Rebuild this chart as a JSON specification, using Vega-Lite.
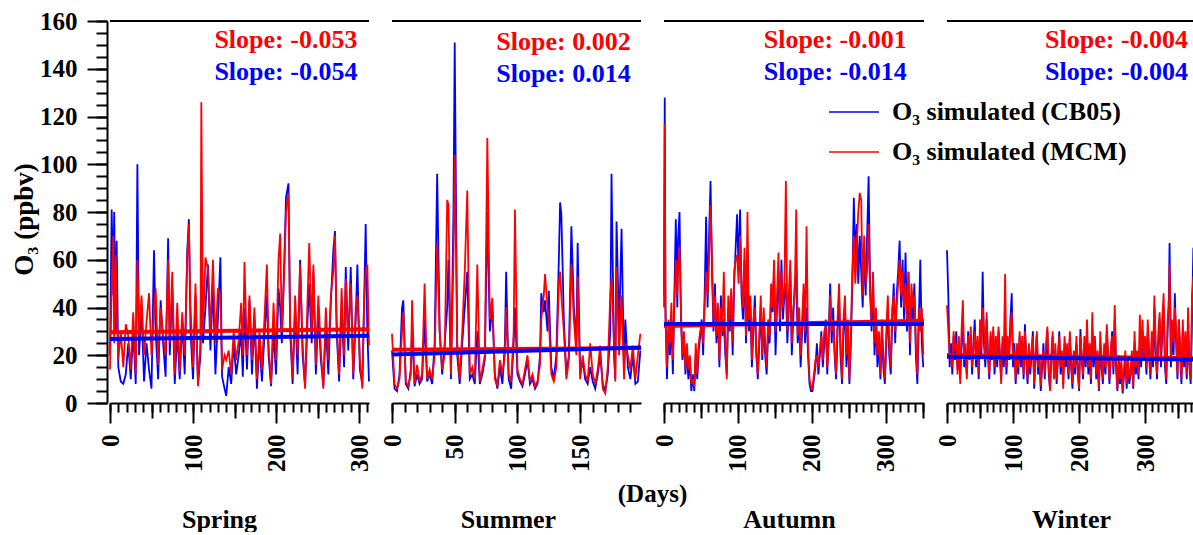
{
"$schema": "https://vega.github.io/schema/vega-lite/v6.json",
"padding": {"left": 10, "top": 9, "right": 0, "bottom": 0},
"bounds": "flush",
"spacing": 23,
"config": {"view": {"stroke": null}, "font": "Liberation Serif",
  "axis": {"grid": false, "domainColor": "black", "domainWidth": 2, "tickColor": "black", "tickWidth": 2, "labelFont": "Liberation Serif", "labelFontSize": 25, "labelFontWeight": "bold", "labelColor": "black", "titleFont": "Liberation Serif", "titleFontSize": 26, "titleFontWeight": "bold", "titleColor": "black", "labelFlush": false, "labelOverlap": false},
  "text": {"font": "Liberation Serif", "fontSize": 26, "fontWeight": "bold", "align": "right", "baseline": "middle"}},
"resolve": {"scale": {"color": "independent"}},
"datasets": {
"spring": [
{"day":0,"cb05":20,"mcm":14},{"day":2,"cb05":81,"mcm":48},{"day":4,"cb05":45,"mcm":70},{"day":5,"cb05":80,"mcm":25},{"day":7,"cb05":30,"mcm":62},{"day":8,"cb05":68,"mcm":40},{"day":10,"cb05":15,"mcm":18},{"day":13,"cb05":9,"mcm":30},{"day":16,"cb05":8,"mcm":15},{"day":19,"cb05":12,"mcm":33},{"day":22,"cb05":25,"mcm":28},{"day":25,"cb05":10,"mcm":14},{"day":28,"cb05":30,"mcm":38},{"day":31,"cb05":8,"mcm":12},{"day":33,"cb05":100,"mcm":60},{"day":35,"cb05":20,"mcm":28},{"day":38,"cb05":40,"mcm":45},{"day":41,"cb05":9,"mcm":20},{"day":44,"cb05":25,"mcm":34},{"day":47,"cb05":14,"mcm":46},{"day":50,"cb05":6,"mcm":20},{"day":53,"cb05":64,"mcm":38},{"day":55,"cb05":30,"mcm":48},{"day":58,"cb05":10,"mcm":16},{"day":61,"cb05":43,"mcm":40},{"day":64,"cb05":25,"mcm":28},{"day":67,"cb05":11,"mcm":20},{"day":70,"cb05":69,"mcm":60},{"day":72,"cb05":20,"mcm":25},{"day":75,"cb05":48,"mcm":55},{"day":78,"cb05":8,"mcm":12},{"day":81,"cb05":30,"mcm":42},{"day":84,"cb05":10,"mcm":13},{"day":87,"cb05":35,"mcm":38},{"day":90,"cb05":12,"mcm":20},{"day":93,"cb05":63,"mcm":60},{"day":95,"cb05":77,"mcm":75},{"day":97,"cb05":30,"mcm":40},{"day":100,"cb05":10,"mcm":15},{"day":103,"cb05":45,"mcm":50},{"day":106,"cb05":8,"mcm":7},{"day":109,"cb05":20,"mcm":25},{"day":110,"cb05":60,"mcm":126},{"day":112,"cb05":25,"mcm":30},{"day":115,"cb05":40,"mcm":61},{"day":118,"cb05":58,"mcm":56},{"day":121,"cb05":22,"mcm":30},{"day":124,"cb05":50,"mcm":60},{"day":127,"cb05":12,"mcm":25},{"day":130,"cb05":35,"mcm":48},{"day":133,"cb05":61,"mcm":45},{"day":135,"cb05":11,"mcm":14},{"day":138,"cb05":6,"mcm":20},{"day":140,"cb05":3,"mcm":18},{"day":143,"cb05":15,"mcm":22},{"day":146,"cb05":8,"mcm":12},{"day":149,"cb05":25,"mcm":30},{"day":152,"cb05":12,"mcm":18},{"day":155,"cb05":20,"mcm":26},{"day":158,"cb05":30,"mcm":42},{"day":160,"cb05":11,"mcm":20},{"day":162,"cb05":40,"mcm":59},{"day":165,"cb05":14,"mcm":20},{"day":168,"cb05":43,"mcm":45},{"day":171,"cb05":12,"mcm":18},{"day":174,"cb05":35,"mcm":40},{"day":177,"cb05":6,"mcm":10},{"day":180,"cb05":26,"mcm":30},{"day":183,"cb05":9,"mcm":14},{"day":186,"cb05":28,"mcm":35},{"day":189,"cb05":45,"mcm":58},{"day":191,"cb05":20,"mcm":24},{"day":194,"cb05":7,"mcm":8},{"day":197,"cb05":30,"mcm":42},{"day":200,"cb05":12,"mcm":18},{"day":203,"cb05":48,"mcm":60},{"day":205,"cb05":40,"mcm":71},{"day":207,"cb05":25,"mcm":30},{"day":210,"cb05":60,"mcm":55},{"day":212,"cb05":86,"mcm":80},{"day":215,"cb05":92,"mcm":88},{"day":217,"cb05":30,"mcm":35},{"day":220,"cb05":8,"mcm":10},{"day":223,"cb05":40,"mcm":45},{"day":226,"cb05":12,"mcm":20},{"day":229,"cb05":60,"mcm":58},{"day":232,"cb05":20,"mcm":25},{"day":235,"cb05":7,"mcm":6},{"day":238,"cb05":35,"mcm":44},{"day":240,"cb05":50,"mcm":67},{"day":243,"cb05":25,"mcm":30},{"day":245,"cb05":55,"mcm":58},{"day":248,"cb05":12,"mcm":16},{"day":251,"cb05":38,"mcm":45},{"day":254,"cb05":18,"mcm":22},{"day":257,"cb05":7,"mcm":6},{"day":260,"cb05":33,"mcm":40},{"day":263,"cb05":12,"mcm":18},{"day":266,"cb05":42,"mcm":45},{"day":269,"cb05":64,"mcm":55},{"day":271,"cb05":72,"mcm":70},{"day":273,"cb05":30,"mcm":35},{"day":276,"cb05":9,"mcm":12},{"day":279,"cb05":40,"mcm":48},{"day":282,"cb05":15,"mcm":20},{"day":284,"cb05":57,"mcm":52},{"day":287,"cb05":22,"mcm":28},{"day":290,"cb05":57,"mcm":50},{"day":293,"cb05":10,"mcm":12},{"day":296,"cb05":35,"mcm":40},{"day":298,"cb05":58,"mcm":45},{"day":301,"cb05":14,"mcm":18},{"day":304,"cb05":8,"mcm":6},{"day":306,"cb05":40,"mcm":42},{"day":308,"cb05":75,"mcm":55},{"day":310,"cb05":30,"mcm":58},{"day":312,"cb05":9,"mcm":24}
],
"summer": [
{"day":0,"cb05":22,"mcm":29},{"day":2,"cb05":6,"mcm":8},{"day":4,"cb05":5,"mcm":6},{"day":6,"cb05":12,"mcm":10},{"day":8,"cb05":40,"mcm":30},{"day":9,"cb05":43,"mcm":38},{"day":11,"cb05":8,"mcm":9},{"day":13,"cb05":6,"mcm":7},{"day":15,"cb05":14,"mcm":12},{"day":16,"cb05":30,"mcm":43},{"day":18,"cb05":7,"mcm":8},{"day":20,"cb05":12,"mcm":16},{"day":22,"cb05":8,"mcm":9},{"day":24,"cb05":10,"mcm":12},{"day":26,"cb05":35,"mcm":50},{"day":28,"cb05":9,"mcm":10},{"day":30,"cb05":12,"mcm":14},{"day":32,"cb05":8,"mcm":10},{"day":34,"cb05":25,"mcm":20},{"day":36,"cb05":96,"mcm":67},{"day":38,"cb05":30,"mcm":30},{"day":40,"cb05":12,"mcm":14},{"day":42,"cb05":25,"mcm":20},{"day":44,"cb05":40,"mcm":85},{"day":45,"cb05":60,"mcm":83},{"day":47,"cb05":10,"mcm":12},{"day":49,"cb05":80,"mcm":60},{"day":50,"cb05":151,"mcm":104},{"day":52,"cb05":20,"mcm":25},{"day":54,"cb05":8,"mcm":10},{"day":56,"cb05":25,"mcm":30},{"day":58,"cb05":40,"mcm":55},{"day":60,"cb05":55,"mcm":89},{"day":62,"cb05":10,"mcm":12},{"day":64,"cb05":12,"mcm":15},{"day":66,"cb05":8,"mcm":10},{"day":68,"cb05":30,"mcm":58},{"day":70,"cb05":8,"mcm":9},{"day":72,"cb05":12,"mcm":14},{"day":74,"cb05":18,"mcm":20},{"day":76,"cb05":80,"mcm":111},{"day":78,"cb05":30,"mcm":35},{"day":80,"cb05":40,"mcm":44},{"day":82,"cb05":12,"mcm":10},{"day":84,"cb05":6,"mcm":7},{"day":86,"cb05":15,"mcm":18},{"day":88,"cb05":8,"mcm":12},{"day":90,"cb05":25,"mcm":20},{"day":91,"cb05":55,"mcm":40},{"day":93,"cb05":10,"mcm":12},{"day":95,"cb05":6,"mcm":9},{"day":97,"cb05":25,"mcm":30},{"day":98,"cb05":40,"mcm":81},{"day":100,"cb05":12,"mcm":14},{"day":102,"cb05":9,"mcm":10},{"day":104,"cb05":7,"mcm":8},{"day":106,"cb05":12,"mcm":14},{"day":108,"cb05":18,"mcm":20},{"day":110,"cb05":8,"mcm":9},{"day":112,"cb05":10,"mcm":12},{"day":114,"cb05":6,"mcm":7},{"day":116,"cb05":8,"mcm":9},{"day":118,"cb05":20,"mcm":16},{"day":119,"cb05":46,"mcm":35},{"day":121,"cb05":38,"mcm":45},{"day":122,"cb05":43,"mcm":54},{"day":124,"cb05":30,"mcm":40},{"day":125,"cb05":47,"mcm":35},{"day":127,"cb05":15,"mcm":12},{"day":129,"cb05":10,"mcm":9},{"day":131,"cb05":20,"mcm":15},{"day":133,"cb05":60,"mcm":50},{"day":134,"cb05":84,"mcm":55},{"day":135,"cb05":79,"mcm":45},{"day":137,"cb05":35,"mcm":30},{"day":139,"cb05":12,"mcm":10},{"day":141,"cb05":20,"mcm":18},{"day":143,"cb05":74,"mcm":58},{"day":145,"cb05":40,"mcm":35},{"day":147,"cb05":25,"mcm":20},{"day":148,"cb05":67,"mcm":53},{"day":150,"cb05":12,"mcm":10},{"day":152,"cb05":18,"mcm":20},{"day":154,"cb05":10,"mcm":12},{"day":156,"cb05":8,"mcm":9},{"day":158,"cb05":15,"mcm":25},{"day":160,"cb05":9,"mcm":12},{"day":162,"cb05":6,"mcm":8},{"day":164,"cb05":12,"mcm":14},{"day":166,"cb05":20,"mcm":24},{"day":168,"cb05":8,"mcm":6},{"day":170,"cb05":5,"mcm":4},{"day":172,"cb05":12,"mcm":15},{"day":174,"cb05":30,"mcm":45},{"day":175,"cb05":96,"mcm":52},{"day":177,"cb05":20,"mcm":25},{"day":178,"cb05":10,"mcm":9},{"day":179,"cb05":76,"mcm":57},{"day":181,"cb05":30,"mcm":20},{"day":183,"cb05":73,"mcm":45},{"day":185,"cb05":12,"mcm":10},{"day":186,"cb05":35,"mcm":25},{"day":188,"cb05":15,"mcm":20},{"day":190,"cb05":10,"mcm":14},{"day":192,"cb05":20,"mcm":24},{"day":194,"cb05":8,"mcm":10},{"day":196,"cb05":9,"mcm":20},{"day":198,"cb05":22,"mcm":29}
],
"autumn": [
{"day":0,"cb05":45,"mcm":40},{"day":1,"cb05":128,"mcm":117},{"day":2,"cb05":40,"mcm":35},{"day":4,"cb05":10,"mcm":15},{"day":6,"cb05":30,"mcm":35},{"day":8,"cb05":20,"mcm":25},{"day":10,"cb05":35,"mcm":42},{"day":12,"cb05":12,"mcm":18},{"day":14,"cb05":45,"mcm":40},{"day":16,"cb05":77,"mcm":60},{"day":18,"cb05":40,"mcm":45},{"day":19,"cb05":68,"mcm":55},{"day":21,"cb05":80,"mcm":65},{"day":23,"cb05":35,"mcm":38},{"day":25,"cb05":18,"mcm":20},{"day":27,"cb05":28,"mcm":30},{"day":29,"cb05":12,"mcm":14},{"day":31,"cb05":22,"mcm":25},{"day":33,"cb05":10,"mcm":14},{"day":35,"cb05":18,"mcm":20},{"day":37,"cb05":5,"mcm":8},{"day":39,"cb05":12,"mcm":10},{"day":41,"cb05":5,"mcm":7},{"day":43,"cb05":20,"mcm":25},{"day":45,"cb05":10,"mcm":12},{"day":47,"cb05":22,"mcm":25},{"day":49,"cb05":28,"mcm":30},{"day":51,"cb05":35,"mcm":32},{"day":53,"cb05":20,"mcm":25},{"day":55,"cb05":45,"mcm":40},{"day":57,"cb05":78,"mcm":55},{"day":59,"cb05":40,"mcm":45},{"day":61,"cb05":70,"mcm":60},{"day":63,"cb05":93,"mcm":83},{"day":65,"cb05":55,"mcm":60},{"day":67,"cb05":30,"mcm":35},{"day":69,"cb05":50,"mcm":45},{"day":71,"cb05":25,"mcm":28},{"day":73,"cb05":38,"mcm":42},{"day":75,"cb05":15,"mcm":18},{"day":77,"cb05":45,"mcm":40},{"day":79,"cb05":28,"mcm":30},{"day":81,"cb05":35,"mcm":55},{"day":83,"cb05":20,"mcm":25},{"day":85,"cb05":12,"mcm":10},{"day":87,"cb05":40,"mcm":45},{"day":89,"cb05":30,"mcm":35},{"day":91,"cb05":45,"mcm":48},{"day":93,"cb05":20,"mcm":25},{"day":95,"cb05":50,"mcm":55},{"day":97,"cb05":65,"mcm":60},{"day":99,"cb05":79,"mcm":62},{"day":101,"cb05":55,"mcm":50},{"day":103,"cb05":81,"mcm":70},{"day":105,"cb05":45,"mcm":50},{"day":107,"cb05":35,"mcm":40},{"day":109,"cb05":60,"mcm":65},{"day":111,"cb05":25,"mcm":28},{"day":113,"cb05":50,"mcm":80},{"day":115,"cb05":30,"mcm":35},{"day":117,"cb05":40,"mcm":45},{"day":119,"cb05":15,"mcm":18},{"day":121,"cb05":30,"mcm":35},{"day":123,"cb05":45,"mcm":40},{"day":125,"cb05":20,"mcm":22},{"day":127,"cb05":10,"mcm":12},{"day":129,"cb05":25,"mcm":28},{"day":131,"cb05":40,"mcm":45},{"day":133,"cb05":18,"mcm":20},{"day":135,"cb05":35,"mcm":40},{"day":137,"cb05":20,"mcm":25},{"day":139,"cb05":12,"mcm":15},{"day":141,"cb05":30,"mcm":35},{"day":143,"cb05":25,"mcm":28},{"day":145,"cb05":45,"mcm":50},{"day":147,"cb05":38,"mcm":40},{"day":149,"cb05":55,"mcm":60},{"day":151,"cb05":20,"mcm":30},{"day":153,"cb05":40,"mcm":45},{"day":155,"cb05":55,"mcm":63},{"day":157,"cb05":30,"mcm":35},{"day":159,"cb05":60,"mcm":55},{"day":161,"cb05":35,"mcm":40},{"day":163,"cb05":45,"mcm":50},{"day":165,"cb05":50,"mcm":93},{"day":167,"cb05":25,"mcm":30},{"day":169,"cb05":40,"mcm":45},{"day":171,"cb05":55,"mcm":60},{"day":173,"cb05":20,"mcm":25},{"day":175,"cb05":35,"mcm":40},{"day":177,"cb05":50,"mcm":45},{"day":179,"cb05":55,"mcm":81},{"day":181,"cb05":25,"mcm":28},{"day":183,"cb05":35,"mcm":40},{"day":185,"cb05":15,"mcm":20},{"day":187,"cb05":30,"mcm":35},{"day":189,"cb05":45,"mcm":50},{"day":191,"cb05":25,"mcm":30},{"day":193,"cb05":40,"mcm":74},{"day":195,"cb05":20,"mcm":25},{"day":197,"cb05":8,"mcm":10},{"day":199,"cb05":5,"mcm":7},{"day":201,"cb05":5,"mcm":6},{"day":203,"cb05":10,"mcm":12},{"day":205,"cb05":15,"mcm":18},{"day":207,"cb05":25,"mcm":20},{"day":209,"cb05":12,"mcm":15},{"day":211,"cb05":20,"mcm":22},{"day":213,"cb05":30,"mcm":28},{"day":215,"cb05":15,"mcm":18},{"day":217,"cb05":25,"mcm":30},{"day":219,"cb05":35,"mcm":32},{"day":221,"cb05":12,"mcm":15},{"day":223,"cb05":30,"mcm":25},{"day":225,"cb05":50,"mcm":45},{"day":227,"cb05":25,"mcm":30},{"day":229,"cb05":40,"mcm":35},{"day":231,"cb05":20,"mcm":22},{"day":233,"cb05":10,"mcm":12},{"day":235,"cb05":30,"mcm":35},{"day":237,"cb05":45,"mcm":50},{"day":239,"cb05":20,"mcm":25},{"day":241,"cb05":8,"mcm":10},{"day":243,"cb05":30,"mcm":35},{"day":245,"cb05":40,"mcm":45},{"day":247,"cb05":15,"mcm":20},{"day":249,"cb05":30,"mcm":35},{"day":251,"cb05":8,"mcm":10},{"day":253,"cb05":25,"mcm":30},{"day":255,"cb05":50,"mcm":55},{"day":257,"cb05":86,"mcm":70},{"day":259,"cb05":60,"mcm":50},{"day":261,"cb05":75,"mcm":65},{"day":263,"cb05":50,"mcm":80},{"day":265,"cb05":70,"mcm":88},{"day":267,"cb05":55,"mcm":85},{"day":269,"cb05":40,"mcm":45},{"day":271,"cb05":65,"mcm":70},{"day":273,"cb05":45,"mcm":50},{"day":275,"cb05":70,"mcm":55},{"day":277,"cb05":95,"mcm":75},{"day":279,"cb05":50,"mcm":45},{"day":281,"cb05":30,"mcm":35},{"day":283,"cb05":50,"mcm":55},{"day":285,"cb05":20,"mcm":25},{"day":287,"cb05":35,"mcm":40},{"day":289,"cb05":15,"mcm":20},{"day":291,"cb05":25,"mcm":30},{"day":293,"cb05":10,"mcm":12},{"day":295,"cb05":30,"mcm":35},{"day":297,"cb05":15,"mcm":20},{"day":299,"cb05":8,"mcm":10},{"day":301,"cb05":25,"mcm":30},{"day":303,"cb05":40,"mcm":45},{"day":305,"cb05":20,"mcm":25},{"day":307,"cb05":12,"mcm":15},{"day":309,"cb05":35,"mcm":40},{"day":311,"cb05":50,"mcm":45},{"day":313,"cb05":25,"mcm":30},{"day":315,"cb05":45,"mcm":40},{"day":317,"cb05":55,"mcm":50},{"day":319,"cb05":68,"mcm":60},{"day":321,"cb05":40,"mcm":45},{"day":323,"cb05":60,"mcm":55},{"day":325,"cb05":35,"mcm":40},{"day":327,"cb05":63,"mcm":50},{"day":329,"cb05":30,"mcm":35},{"day":331,"cb05":55,"mcm":55},{"day":333,"cb05":20,"mcm":25},{"day":335,"cb05":45,"mcm":50},{"day":337,"cb05":35,"mcm":40},{"day":339,"cb05":50,"mcm":45},{"day":341,"cb05":20,"mcm":25},{"day":343,"cb05":8,"mcm":12},{"day":345,"cb05":35,"mcm":40},{"day":347,"cb05":60,"mcm":30},{"day":349,"cb05":25,"mcm":40},{"day":351,"cb05":15,"mcm":20}
],
"winter": [
{"day":0,"cb05":64,"mcm":41},{"day":2,"cb05":45,"mcm":30},{"day":4,"cb05":15,"mcm":20},{"day":6,"cb05":25,"mcm":18},{"day":8,"cb05":12,"mcm":15},{"day":10,"cb05":28,"mcm":30},{"day":12,"cb05":18,"mcm":22},{"day":14,"cb05":30,"mcm":25},{"day":16,"cb05":14,"mcm":12},{"day":18,"cb05":22,"mcm":28},{"day":20,"cb05":10,"mcm":8},{"day":22,"cb05":25,"mcm":30},{"day":24,"cb05":35,"mcm":43},{"day":26,"cb05":15,"mcm":18},{"day":28,"cb05":20,"mcm":25},{"day":30,"cb05":12,"mcm":10},{"day":32,"cb05":30,"mcm":28},{"day":34,"cb05":18,"mcm":20},{"day":36,"cb05":28,"mcm":32},{"day":38,"cb05":12,"mcm":15},{"day":40,"cb05":25,"mcm":22},{"day":42,"cb05":35,"mcm":30},{"day":44,"cb05":15,"mcm":18},{"day":46,"cb05":25,"mcm":28},{"day":48,"cb05":10,"mcm":12},{"day":50,"cb05":30,"mcm":35},{"day":52,"cb05":20,"mcm":22},{"day":54,"cb05":55,"mcm":40},{"day":56,"cb05":25,"mcm":30},{"day":58,"cb05":15,"mcm":18},{"day":60,"cb05":35,"mcm":38},{"day":62,"cb05":20,"mcm":22},{"day":64,"cb05":10,"mcm":12},{"day":66,"cb05":28,"mcm":30},{"day":68,"cb05":18,"mcm":20},{"day":70,"cb05":30,"mcm":32},{"day":72,"cb05":12,"mcm":15},{"day":74,"cb05":25,"mcm":28},{"day":76,"cb05":15,"mcm":18},{"day":78,"cb05":30,"mcm":32},{"day":80,"cb05":20,"mcm":22},{"day":82,"cb05":10,"mcm":8},{"day":84,"cb05":25,"mcm":28},{"day":86,"cb05":15,"mcm":20},{"day":88,"cb05":30,"mcm":54},{"day":90,"cb05":12,"mcm":15},{"day":92,"cb05":25,"mcm":28},{"day":94,"cb05":18,"mcm":20},{"day":96,"cb05":35,"mcm":30},{"day":98,"cb05":46,"mcm":38},{"day":100,"cb05":15,"mcm":18},{"day":102,"cb05":25,"mcm":22},{"day":104,"cb05":8,"mcm":10},{"day":106,"cb05":20,"mcm":25},{"day":108,"cb05":12,"mcm":15},{"day":110,"cb05":28,"mcm":30},{"day":112,"cb05":15,"mcm":18},{"day":114,"cb05":25,"mcm":28},{"day":116,"cb05":10,"mcm":12},{"day":118,"cb05":33,"mcm":30},{"day":120,"cb05":18,"mcm":20},{"day":122,"cb05":8,"mcm":10},{"day":124,"cb05":22,"mcm":25},{"day":126,"cb05":12,"mcm":15},{"day":128,"cb05":20,"mcm":22},{"day":130,"cb05":30,"mcm":28},{"day":132,"cb05":6,"mcm":8},{"day":134,"cb05":18,"mcm":20},{"day":136,"cb05":28,"mcm":30},{"day":138,"cb05":12,"mcm":15},{"day":140,"cb05":20,"mcm":18},{"day":142,"cb05":5,"mcm":7},{"day":144,"cb05":15,"mcm":18},{"day":146,"cb05":25,"mcm":22},{"day":148,"cb05":10,"mcm":12},{"day":150,"cb05":20,"mcm":25},{"day":152,"cb05":30,"mcm":32},{"day":154,"cb05":12,"mcm":15},{"day":156,"cb05":6,"mcm":5},{"day":158,"cb05":20,"mcm":18},{"day":160,"cb05":28,"mcm":30},{"day":162,"cb05":12,"mcm":10},{"day":164,"cb05":22,"mcm":25},{"day":166,"cb05":8,"mcm":10},{"day":168,"cb05":18,"mcm":20},{"day":170,"cb05":30,"mcm":28},{"day":172,"cb05":12,"mcm":15},{"day":174,"cb05":20,"mcm":22},{"day":176,"cb05":8,"mcm":6},{"day":178,"cb05":25,"mcm":28},{"day":180,"cb05":15,"mcm":18},{"day":182,"cb05":22,"mcm":25},{"day":184,"cb05":10,"mcm":12},{"day":186,"cb05":28,"mcm":30},{"day":188,"cb05":15,"mcm":18},{"day":190,"cb05":6,"mcm":8},{"day":192,"cb05":20,"mcm":22},{"day":194,"cb05":12,"mcm":15},{"day":196,"cb05":25,"mcm":28},{"day":198,"cb05":15,"mcm":12},{"day":200,"cb05":5,"mcm":6},{"day":202,"cb05":31,"mcm":28},{"day":204,"cb05":18,"mcm":20},{"day":206,"cb05":10,"mcm":12},{"day":208,"cb05":25,"mcm":28},{"day":210,"cb05":15,"mcm":18},{"day":212,"cb05":28,"mcm":35},{"day":214,"cb05":12,"mcm":15},{"day":216,"cb05":20,"mcm":25},{"day":218,"cb05":8,"mcm":10},{"day":220,"cb05":30,"mcm":38},{"day":222,"cb05":15,"mcm":18},{"day":224,"cb05":25,"mcm":28},{"day":226,"cb05":10,"mcm":12},{"day":228,"cb05":20,"mcm":22},{"day":230,"cb05":5,"mcm":6},{"day":232,"cb05":25,"mcm":30},{"day":234,"cb05":15,"mcm":18},{"day":236,"cb05":8,"mcm":10},{"day":238,"cb05":22,"mcm":25},{"day":240,"cb05":12,"mcm":15},{"day":242,"cb05":30,"mcm":33},{"day":244,"cb05":18,"mcm":20},{"day":246,"cb05":8,"mcm":10},{"day":248,"cb05":20,"mcm":22},{"day":250,"cb05":30,"mcm":28},{"day":252,"cb05":12,"mcm":15},{"day":254,"cb05":35,"mcm":41},{"day":256,"cb05":15,"mcm":18},{"day":258,"cb05":5,"mcm":6},{"day":260,"cb05":18,"mcm":20},{"day":262,"cb05":8,"mcm":10},{"day":264,"cb05":15,"mcm":18},{"day":266,"cb05":4,"mcm":5},{"day":268,"cb05":12,"mcm":14},{"day":270,"cb05":20,"mcm":22},{"day":272,"cb05":6,"mcm":8},{"day":274,"cb05":15,"mcm":18},{"day":276,"cb05":8,"mcm":10},{"day":278,"cb05":12,"mcm":14},{"day":280,"cb05":20,"mcm":22},{"day":282,"cb05":6,"mcm":7},{"day":284,"cb05":25,"mcm":30},{"day":286,"cb05":12,"mcm":15},{"day":288,"cb05":20,"mcm":22},{"day":290,"cb05":10,"mcm":12},{"day":292,"cb05":25,"mcm":37},{"day":294,"cb05":15,"mcm":18},{"day":296,"cb05":30,"mcm":35},{"day":298,"cb05":18,"mcm":20},{"day":300,"cb05":25,"mcm":28},{"day":302,"cb05":12,"mcm":15},{"day":304,"cb05":30,"mcm":35},{"day":306,"cb05":20,"mcm":22},{"day":308,"cb05":10,"mcm":12},{"day":310,"cb05":25,"mcm":30},{"day":312,"cb05":15,"mcm":18},{"day":314,"cb05":40,"mcm":45},{"day":316,"cb05":20,"mcm":25},{"day":318,"cb05":10,"mcm":12},{"day":320,"cb05":25,"mcm":30},{"day":322,"cb05":35,"mcm":38},{"day":324,"cb05":15,"mcm":18},{"day":326,"cb05":30,"mcm":35},{"day":328,"cb05":40,"mcm":46},{"day":330,"cb05":15,"mcm":18},{"day":332,"cb05":8,"mcm":10},{"day":334,"cb05":30,"mcm":35},{"day":336,"cb05":45,"mcm":40},{"day":337,"cb05":67,"mcm":58},{"day":339,"cb05":15,"mcm":20},{"day":341,"cb05":30,"mcm":35},{"day":343,"cb05":20,"mcm":25},{"day":345,"cb05":46,"mcm":40},{"day":347,"cb05":25,"mcm":30},{"day":349,"cb05":10,"mcm":12},{"day":351,"cb05":35,"mcm":35},{"day":353,"cb05":20,"mcm":25},{"day":355,"cb05":8,"mcm":10},{"day":357,"cb05":30,"mcm":35},{"day":359,"cb05":15,"mcm":18},{"day":361,"cb05":25,"mcm":30},{"day":363,"cb05":10,"mcm":12},{"day":365,"cb05":30,"mcm":40},{"day":367,"cb05":15,"mcm":18},{"day":369,"cb05":8,"mcm":10},{"day":371,"cb05":35,"mcm":45},{"day":373,"cb05":65,"mcm":53},{"day":374,"cb05":40,"mcm":30}
],
"trend_spring": [{"day":0,"cb05":26.8,"mcm":29.6},{"day":312,"cb05":28.2,"mcm":30.9}],
"trend_summer": [{"day":0,"cb05":20.3,"mcm":22.3},{"day":198.5,"cb05":23.2,"mcm":23.0}],
"trend_autumn": [{"day":0,"cb05":33.1,"mcm":32.3},{"day":352,"cb05":33.1,"mcm":34.4}],
"trend_winter": [{"day":0,"cb05":19.4,"mcm":20.1},{"day":374,"cb05":18.2,"mcm":18.7}],
"blank": [{}]
},
"hconcat": [
{
"width": 259, "height": 382,
"resolve": {"axis": {"x": "independent", "y": "independent"}},
"layer": [
{"data": {"name": "spring"}, "mark": {"type": "line", "color": "#0000ff", "strokeWidth": 1.8},
 "encoding": {"x": {"field": "day", "type": "quantitative", "scale": {"domain": [0, 312], "nice": false, "zero": false},
   "axis": {"orient": "bottom", "values": [0, 100, 200, 300], "tickSize": 20, "labelAngle": -90, "labelPadding": 11, "title": "Spring", "titleX": 109, "titleY": 124, "titleBaseline": "alphabetic", "titleAlign": "center"}},
  "y": {"field": "cb05", "type": "quantitative", "scale": {"domain": [0, 160], "nice": false},
   "axis": {"orient": "left", "values": [0, 20, 40, 60, 80, 100, 120, 140, 160], "tickSize": 20, "offset": 3, "labelPadding": 10, "title": "O₃ (ppbv)", "titleFontSize": 27, "titlePadding": 1, "titleY": 198, "titleAlign": "center"}}}},
{"data": {"name": "spring"}, "mark": {"type": "line", "color": "#ff0000", "strokeWidth": 1.8},
 "encoding": {"x": {"field": "day", "type": "quantitative", "scale": {"domain": [0, 312], "nice": false, "zero": false},
   "axis": {"orient": "bottom", "values": [50, 150, 250], "tickSize": 15, "labels": false, "domain": false, "title": null}},
  "y": {"field": "mcm", "type": "quantitative", "scale": {"domain": [0, 160], "nice": false},
   "axis": {"orient": "left", "values": [0,5,10,15,20,25,30,35,40,45,50,55,60,65,70,75,80,85,90,95,100,105,110,115,120,125,130,135,140,145,150,155,160], "tickSize": 11, "offset": 3, "labels": false, "domain": false, "title": null}}}},
{"data": {"name": "trend_spring"}, "mark": {"type": "line", "color": "#ff0000", "strokeWidth": 4},
 "encoding": {"x": {"field": "day", "type": "quantitative", "scale": {"domain": [0, 312], "nice": false, "zero": false},
   "axis": {"orient": "bottom", "values": [0,10,20,30,40,50,60,70,80,90,100,110,120,130,140,150,160,170,180,190,200,210,220,230,240,250,260,270,280,290,300,310], "tickSize": 9, "labels": false, "domain": false, "title": null}},
  "y": {"field": "mcm", "type": "quantitative", "axis": null}}},
{"data": {"name": "trend_spring"}, "mark": {"type": "line", "color": "#0000ff", "strokeWidth": 4},
 "encoding": {"x": {"field": "day", "type": "quantitative", "axis": null}, "y": {"field": "cb05", "type": "quantitative", "axis": null}}},
{"data": {"name": "blank"}, "mark": {"type": "rule", "color": "black", "strokeWidth": 2},
 "encoding": {"y": {"datum": 160, "type": "quantitative", "axis": null}}},
{"data": {"name": "blank"}, "mark": {"type": "text", "color": "#ff0000"},
 "encoding": {"x": {"datum": 298, "type": "quantitative", "axis": null}, "y": {"datum": 152, "type": "quantitative", "axis": null}, "text": {"value": "Slope: -0.053"}}},
{"data": {"name": "blank"}, "mark": {"type": "text", "color": "#0000ff"},
 "encoding": {"x": {"datum": 298, "type": "quantitative", "axis": null}, "y": {"datum": 138.6, "type": "quantitative", "axis": null}, "text": {"value": "Slope: -0.054"}}}
]
},
{
"width": 249, "height": 382,
"resolve": {"axis": {"x": "independent", "y": "independent"}},
"layer": [
{"data": {"name": "summer"}, "mark": {"type": "line", "color": "#0000ff", "strokeWidth": 1.8},
 "encoding": {"x": {"field": "day", "type": "quantitative", "scale": {"domain": [0, 198.5], "nice": false, "zero": false},
   "axis": {"orient": "bottom", "values": [0, 50, 100, 150], "tickSize": 20, "labelAngle": -90, "labelPadding": 11, "title": "Summer", "titleX": 116, "titleY": 124, "titleBaseline": "alphabetic", "titleAlign": "center"}},
  "y": {"field": "cb05", "type": "quantitative", "scale": {"domain": [0, 160], "nice": false}, "axis": null}}},
{"data": {"name": "summer"}, "mark": {"type": "line", "color": "#ff0000", "strokeWidth": 1.8},
 "encoding": {"x": {"field": "day", "type": "quantitative", "scale": {"domain": [0, 198.5], "nice": false, "zero": false},
   "axis": {"orient": "bottom", "ticks": false, "labels": false, "domain": false, "title": "(Days)", "titleFontSize": 25, "titleX": 260, "titleY": 98, "titleBaseline": "alphabetic", "titleAlign": "center"}},
  "y": {"field": "mcm", "type": "quantitative", "axis": null}}},
{"data": {"name": "trend_summer"}, "mark": {"type": "line", "color": "#ff0000", "strokeWidth": 4},
 "encoding": {"x": {"field": "day", "type": "quantitative", "scale": {"domain": [0, 198.5], "nice": false, "zero": false},
   "axis": {"orient": "bottom", "values": [0,10,20,30,40,50,60,70,80,90,100,110,120,130,140,150,160,170,180,190], "tickSize": 9, "labels": false, "domain": false, "title": null}},
  "y": {"field": "mcm", "type": "quantitative", "axis": null}}},
{"data": {"name": "trend_summer"}, "mark": {"type": "line", "color": "#0000ff", "strokeWidth": 4},
 "encoding": {"x": {"field": "day", "type": "quantitative", "axis": null}, "y": {"field": "cb05", "type": "quantitative", "axis": null}}},
{"data": {"name": "blank"}, "mark": {"type": "rule", "color": "black", "strokeWidth": 2},
 "encoding": {"y": {"datum": 160, "type": "quantitative", "axis": null}}},
{"data": {"name": "blank"}, "mark": {"type": "text", "color": "#ff0000"},
 "encoding": {"x": {"datum": 190.3, "type": "quantitative", "axis": null}, "y": {"datum": 151, "type": "quantitative", "axis": null}, "text": {"value": "Slope: 0.002"}}},
{"data": {"name": "blank"}, "mark": {"type": "text", "color": "#0000ff"},
 "encoding": {"x": {"datum": 190.3, "type": "quantitative", "axis": null}, "y": {"datum": 137.6, "type": "quantitative", "axis": null}, "text": {"value": "Slope: 0.014"}}}
]
},
{
"width": 260, "height": 382,
"resolve": {"axis": {"x": "independent", "y": "independent"}},
"layer": [
{"data": {"name": "autumn"}, "mark": {"type": "line", "strokeWidth": 1.8},
 "encoding": {"x": {"field": "day", "type": "quantitative", "scale": {"domain": [0, 352], "nice": false, "zero": false},
   "axis": {"orient": "bottom", "values": [0, 100, 200, 300], "tickSize": 20, "labelAngle": -90, "labelPadding": 11, "title": "Autumn", "titleX": 125, "titleY": 124, "titleBaseline": "alphabetic", "titleAlign": "center"}},
  "y": {"field": "cb05", "type": "quantitative", "scale": {"domain": [0, 160], "nice": false}, "axis": null},
  "color": {"datum": "CB05", "type": "nominal", "scale": {"domain": ["CB05", "MCM"], "range": ["#0000ff", "#ff0000"]},
   "legend": {"orient": "none", "legendX": 164, "legendY": 65, "title": null, "symbolType": "stroke", "symbolSize": 2500, "symbolStrokeWidth": 1.5, "labelFont": "Liberation Serif", "labelFontSize": 26, "labelFontWeight": "bold", "labelColor": "black", "labelOffset": 12, "labelLimit": 400, "rowPadding": 1, "labelExpr": "'O₃ simulated (' + datum.label + ')'"}}}},
{"data": {"name": "autumn"}, "mark": {"type": "line", "strokeWidth": 1.8},
 "encoding": {"x": {"field": "day", "type": "quantitative", "scale": {"domain": [0, 352], "nice": false, "zero": false},
   "axis": {"orient": "bottom", "values": [50, 150, 250, 350], "tickSize": 15, "labels": false, "domain": false, "title": null}},
  "y": {"field": "mcm", "type": "quantitative", "axis": null},
  "color": {"datum": "MCM", "type": "nominal"}}},
{"data": {"name": "trend_autumn"}, "mark": {"type": "line", "color": "#ff0000", "strokeWidth": 4},
 "encoding": {"x": {"field": "day", "type": "quantitative", "scale": {"domain": [0, 352], "nice": false, "zero": false},
   "axis": {"orient": "bottom", "values": [0,10,20,30,40,50,60,70,80,90,100,110,120,130,140,150,160,170,180,190,200,210,220,230,240,250,260,270,280,290,300,310,320,330,340,350], "tickSize": 9, "labels": false, "domain": false, "title": null}},
  "y": {"field": "mcm", "type": "quantitative", "axis": null}}},
{"data": {"name": "trend_autumn"}, "mark": {"type": "line", "color": "#0000ff", "strokeWidth": 4},
 "encoding": {"x": {"field": "day", "type": "quantitative", "axis": null}, "y": {"field": "cb05", "type": "quantitative", "axis": null}}},
{"data": {"name": "blank"}, "mark": {"type": "rule", "color": "black", "strokeWidth": 2},
 "encoding": {"y": {"datum": 160, "type": "quantitative", "axis": null}}},
{"data": {"name": "blank"}, "mark": {"type": "text", "color": "#ff0000"},
 "encoding": {"x": {"datum": 328.6, "type": "quantitative", "axis": null}, "y": {"datum": 152, "type": "quantitative", "axis": null}, "text": {"value": "Slope: -0.001"}}},
{"data": {"name": "blank"}, "mark": {"type": "text", "color": "#0000ff"},
 "encoding": {"x": {"datum": 328.6, "type": "quantitative", "axis": null}, "y": {"datum": 138.6, "type": "quantitative", "axis": null}, "text": {"value": "Slope: -0.014"}}}
]
},
{
"width": 247, "height": 382,
"resolve": {"axis": {"x": "independent", "y": "independent"}},
"layer": [
{"data": {"name": "winter"}, "mark": {"type": "line", "color": "#0000ff", "strokeWidth": 1.8},
 "encoding": {"x": {"field": "day", "type": "quantitative", "scale": {"domain": [0, 374], "nice": false, "zero": false},
   "axis": {"orient": "bottom", "values": [0, 100, 200, 300], "tickSize": 20, "labelAngle": -90, "labelPadding": 11, "title": "Winter", "titleX": 124, "titleY": 124, "titleBaseline": "alphabetic", "titleAlign": "center"}},
  "y": {"field": "cb05", "type": "quantitative", "scale": {"domain": [0, 160], "nice": false}, "axis": null}}},
{"data": {"name": "winter"}, "mark": {"type": "line", "color": "#ff0000", "strokeWidth": 1.8},
 "encoding": {"x": {"field": "day", "type": "quantitative", "scale": {"domain": [0, 374], "nice": false, "zero": false},
   "axis": {"orient": "bottom", "values": [50, 150, 250, 350], "tickSize": 15, "labels": false, "domain": false, "title": null}},
  "y": {"field": "mcm", "type": "quantitative", "axis": null}}},
{"data": {"name": "trend_winter"}, "mark": {"type": "line", "color": "#ff0000", "strokeWidth": 4},
 "encoding": {"x": {"field": "day", "type": "quantitative", "scale": {"domain": [0, 374], "nice": false, "zero": false},
   "axis": {"orient": "bottom", "values": [0,10,20,30,40,50,60,70,80,90,100,110,120,130,140,150,160,170,180,190,200,210,220,230,240,250,260,270,280,290,300,310,320,330,340,350,360,370], "tickSize": 9, "labels": false, "domain": false, "title": null}},
  "y": {"field": "mcm", "type": "quantitative", "axis": null}}},
{"data": {"name": "trend_winter"}, "mark": {"type": "line", "color": "#0000ff", "strokeWidth": 4},
 "encoding": {"x": {"field": "day", "type": "quantitative", "axis": null}, "y": {"field": "cb05", "type": "quantitative", "axis": null}}},
{"data": {"name": "blank"}, "mark": {"type": "rule", "color": "black", "strokeWidth": 2},
 "encoding": {"y": {"datum": 160, "type": "quantitative", "axis": null}}},
{"data": {"name": "blank"}, "mark": {"type": "text", "color": "#ff0000"},
 "encoding": {"x": {"datum": 365, "type": "quantitative", "axis": null}, "y": {"datum": 152, "type": "quantitative", "axis": null}, "text": {"value": "Slope: -0.004"}}},
{"data": {"name": "blank"}, "mark": {"type": "text", "color": "#0000ff"},
 "encoding": {"x": {"datum": 365, "type": "quantitative", "axis": null}, "y": {"datum": 138.6, "type": "quantitative", "axis": null}, "text": {"value": "Slope: -0.004"}}}
]
}
]
}
